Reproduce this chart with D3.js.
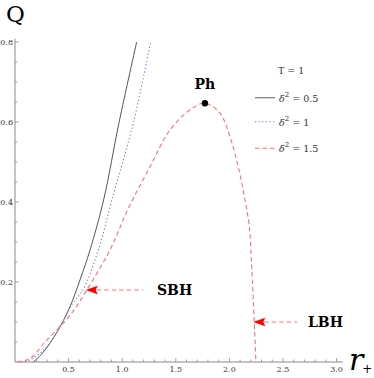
<!DOCTYPE html>
<html>
<head>
<meta charset="utf-8">
<script src="https://cdn.jsdelivr.net/npm/d3@7.9.0/dist/d3.min.js"></script>
<style>
  body { margin: 0; background: #fff; }
  svg { display: block; }
  svg text { font-family: "DejaVu Serif", "Liberation Serif", serif; }
</style>
</head>
<body>
<svg id="chart" width="374" height="378"></svg>
<script>
// curves: [r+, Q]
const curveBlack = [[0.171, 0], [0.25, 0.02], [0.326, 0.047], [0.42, 0.088], [0.513, 0.138],
  [0.606, 0.205], [0.70, 0.28], [0.83, 0.409], [0.97, 0.598], [1.135, 0.8]];
const curveBlue = [[0.06, 0], [0.14, 0.005], [0.296, 0.038], [0.42, 0.088], [0.529, 0.143],
  [0.637, 0.182], [0.777, 0.28], [0.908, 0.409], [1.104, 0.598], [1.265, 0.8]];
const curveRed = [[0.02, 0], [0.1, 0.004], [0.17, 0.015], [0.264, 0.045], [0.389, 0.08],
  [0.529, 0.122], [0.669, 0.18], [0.886, 0.28], [1.057, 0.384], [1.259, 0.488], [1.446, 0.58],
  [1.632, 0.63], [1.772, 0.647], [1.912, 0.622], [2.006, 0.563], [2.083, 0.488], [2.146, 0.405],
  [2.186, 0.338], [2.208, 0.238], [2.232, 0.10], [2.248, 0]];

const legendLabels = ['0.5', '1', '1.5'];
const xTicks = [0.5, 1.0, 1.5, 2.0, 2.5, 3.0];
const yTicks = [0.2, 0.4, 0.6, 0.8];

const phPoint = [1.772, 0.647];
const sbh = [0.669, 0.18];
const lbh = [2.232, 0.10];

const svg = d3.select('#chart');
const x = d3.scaleLinear().domain([0, 3.06]).range([15, 343]);
const y = d3.scaleLinear().domain([0, 0.8]).range([362, 42]);

const axisColor = '#8a8a8a';

// axes
svg.append('line').attr('x1', x(0)).attr('x2', x(3.06)).attr('y1', y(0)).attr('y2', y(0))
  .attr('stroke', axisColor).attr('stroke-width', 1);
svg.append('line').attr('x1', x(0)).attr('x2', x(0)).attr('y1', y(0)).attr('y2', y(0.808))
  .attr('stroke', axisColor).attr('stroke-width', 1);

// x ticks
const xMinor = d3.range(1, 31).map(i => i / 10);
svg.selectAll('.xt').data(xMinor).join('line')
  .attr('x1', d => x(d)).attr('x2', d => x(d))
  .attr('y1', y(0)).attr('y2', d => y(0) - (Math.abs(d * 2 - Math.round(d * 2)) < 1e-6 ? 4 : 2.5))
  .attr('stroke', axisColor).attr('stroke-width', 0.8);
svg.selectAll('.xl').data(xTicks).join('text')
  .attr('x', d => x(d)).attr('y', y(0) + 10)
  .attr('text-anchor', 'middle').attr('font-size', 8).attr('fill', '#333')
  .text(d => d.toFixed(1));

// y ticks
const yMinor = d3.range(1, 17).map(i => i * 0.05);
svg.selectAll('.yt').data(yMinor).join('line')
  .attr('x1', x(0)).attr('x2', (d, i) => x(0) + ((i + 1) % 4 === 0 ? 4 : 2.5))
  .attr('y1', d => y(d)).attr('y2', d => y(d))
  .attr('stroke', axisColor).attr('stroke-width', 0.8);
svg.selectAll('.yl').data(yTicks).join('text')
  .attr('x', x(0) - 2).attr('y', d => y(d) + 3)
  .attr('text-anchor', 'end').attr('font-size', 8).attr('fill', '#333')
  .text(d => d.toFixed(1));

// axis labels
svg.append('text').attr('x', 6).attr('y', 22).attr('font-size', 23).attr('fill', '#000').text('Q');
const rl = svg.append('text').attr('x', 349).attr('y', 370).attr('fill', '#000');
rl.append('tspan').attr('font-size', 30).attr('font-style', 'italic').text('r');
rl.append('tspan').attr('font-size', 12).attr('dx', -1).attr('dy', 3).text('+');

// curves
const line = d3.line().x(d => x(d[0])).y(d => y(d[1])).curve(d3.curveCatmullRom.alpha(0.5));
svg.append('path').attr('d', line(curveBlack)).attr('fill', 'none')
  .attr('stroke', '#555').attr('stroke-width', 1);
svg.append('path').attr('d', line(curveBlue)).attr('fill', 'none')
  .attr('stroke', '#7070ff').attr('stroke-width', 1.1).attr('stroke-dasharray', '1.2,2.4');
svg.append('path').attr('d', line(curveRed)).attr('fill', 'none')
  .attr('stroke', '#ff7070').attr('stroke-width', 1.1).attr('stroke-dasharray', '4.5,3');

// Ph point
svg.append('circle').attr('cx', x(phPoint[0])).attr('cy', y(phPoint[1])).attr('r', 3.2).attr('fill', '#000');
svg.append('text').attr('x', x(phPoint[0])).attr('y', y(phPoint[1]) - 14)
  .attr('text-anchor', 'middle').attr('font-size', 14).attr('font-weight', 'bold').text('Ph');

// arrows
function arrow(pt, len, label, labelX) {
  const tx = x(pt[0]) - 1, ty = y(pt[1]);
  svg.append('line').attr('x1', tx + 11).attr('x2', tx + 11 + len).attr('y1', ty).attr('y2', ty)
    .attr('stroke', '#ff7070').attr('stroke-width', 1.1).attr('stroke-dasharray', '4.5,3');
  svg.append('path')
    .attr('d', `M${tx},${ty} L${tx + 12},${ty - 4.2} L${tx + 10},${ty} L${tx + 12},${ty + 4.2} Z`)
    .attr('fill', '#ff0000');
  svg.append('text').attr('x', labelX).attr('y', ty + 5).attr('font-size', 14)
    .attr('font-weight', 'bold').text(label);
}
arrow(sbh, 46, 'SBH', 157);
arrow(lbh, 33, 'LBH', 308);

// legend
svg.append('text').attr('x', 278).attr('y', 74).attr('font-size', 9.5).attr('fill', '#333').text('T = 1');
const legStyles = [
  { stroke: '#777', dash: null, w: 1.2 },
  { stroke: '#7070ff', dash: '1.2,2.4', w: 1.1 },
  { stroke: '#ff7070', dash: '4.5,3', w: 1.1 }
];
const legY = [97.7, 121.7, 148.3];
legendLabels.forEach((lab, i) => {
  svg.append('line').attr('x1', 255).attr('x2', 275).attr('y1', legY[i]).attr('y2', legY[i])
    .attr('stroke', legStyles[i].stroke).attr('stroke-width', legStyles[i].w)
    .attr('stroke-dasharray', legStyles[i].dash);
  const t = svg.append('text').attr('x', 279).attr('y', legY[i] + 4).attr('font-size', 9.5).attr('fill', '#333');
  t.append('tspan').attr('font-style', 'italic').text('δ');
  t.append('tspan').attr('font-size', 7).attr('dy', -5).text('2');
  t.append('tspan').attr('dy', 5).text(' = ' + lab);
});
</script>
</body>
</html>
